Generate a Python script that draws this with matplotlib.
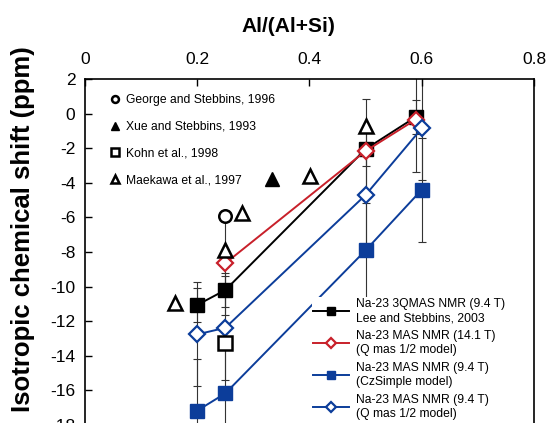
import matplotlib
matplotlib.use("Agg")
import matplotlib.pyplot as plt
from matplotlib.ticker import FuncFormatter

plt.rcParams["font.family"] = ["Liberation Sans", "DejaVu Sans"]
plt.rcParams["axes.unicode_minus"] = False

RED = "#c8202a"
BLUE = "#0c3d9a"

# Na-23 3QMAS NMR (9.4 T), Lee and Stebbins 2003
x_lee = [0.2, 0.25, 0.5, 0.589]
y_lee = [-11.06, -10.2, -2.05, -0.2]
err_lee = 1.0

# Na-23 MAS NMR (14.1 T), Q mas 1/2 model
x_mas14 = [0.25, 0.5, 0.589]
y_mas14 = [-8.65, -2.16, -0.35]

# Na-23 MAS NMR (9.4 T), CzSimple and Q mas 1/2 models
x_mas94 = [0.2, 0.25, 0.5, 0.6]
y_cz = [-17.17, -16.17, -7.9, -4.4]
y_qmas = [-12.76, -12.38, -4.7, -0.85]
err_mas = 3.0

# literature values
x_george = [0.25]
y_george = [-5.9]
x_xue = [0.334]
y_xue = [-3.8]
x_kohn = [0.25]
y_kohn = [-13.28]
x_maekawa = [0.16, 0.25, 0.279, 0.401, 0.5]
y_maekawa = [-10.95, -7.9, -5.73, -3.59, -0.72]

fig = plt.figure(figsize=(5.49, 4.23), dpi=100)
ax = fig.add_axes([0.1548, -0.0866, 0.8179, 0.8998])

# error bars underneath everything
eb = dict(fmt="none", ecolor="0.2", elinewidth=0.8, capsize=3, capthick=0.8, zorder=1)
ax.errorbar(x_lee, y_lee, yerr=err_lee, **eb)
ax.errorbar(x_mas14, y_mas14, yerr=err_mas, **eb)
ax.errorbar(x_mas94, y_cz, yerr=err_mas, **eb)
ax.errorbar(x_mas94, y_qmas, yerr=err_mas, **eb)

lee, = ax.plot(x_lee, y_lee, "-s", color="black", ms=10.5, lw=1.4, zorder=3,
               label="Na-23 3QMAS NMR (9.4 T)\nLee and Stebbins, 2003")
m14, = ax.plot(x_mas14, y_mas14, "-D", color=RED, mfc="white", mec=RED, mew=1.6,
               ms=8.5, lw=1.4, zorder=4,
               label="Na-23 MAS NMR (14.1 T)\n(Q mas 1/2 model)")
cz, = ax.plot(x_mas94, y_cz, "-s", color=BLUE, ms=10, lw=1.4, zorder=3,
              label="Na-23 MAS NMR (9.4 T)\n(CzSimple model)")
qm, = ax.plot(x_mas94, y_qmas, "-D", color=BLUE, mfc="white", mec=BLUE, mew=1.6,
              ms=8.5, lw=1.4, zorder=4,
              label="Na-23 MAS NMR (9.4 T)\n(Q mas 1/2 model)")

lit = dict(ls="none", color="black", zorder=6)
g, = ax.plot(x_george, y_george, "o", mfc="white", mew=1.8, ms=9,
             label="George and Stebbins, 1996", **lit)
xu, = ax.plot(x_xue, y_xue, "^", ms=10.5, label="Xue and Stebbins, 1993", **lit)
k, = ax.plot(x_kohn, y_kohn, "s", mfc="white", mew=1.8, ms=9.5,
             label="Kohn et al., 1998", **lit)
mk, = ax.plot(x_maekawa, y_maekawa, "^", mfc="white", mew=1.8, ms=10.5,
              label="Maekawa et al., 1997", **lit)

ax.set_xlim(0, 0.8)
ax.set_ylim(-20, 2)
ax.set_xticks([0, 0.2, 0.4, 0.6, 0.8])
ax.set_yticks(range(-20, 3, 2))
ax.xaxis.set_major_formatter(FuncFormatter(lambda v, p: f"{v:g}"))
ax.xaxis.tick_top()
ax.tick_params(axis="both", direction="in", length=5, width=1, labelsize=12.5)
ax.tick_params(axis="x", pad=9)
ax.tick_params(axis="y", pad=7)
for s in ax.spines.values():
    s.set_linewidth(1.2)

fig.text(288 / 549, 1 - 26 / 423, "Al/(Al+Si)", fontsize=15, fontweight="bold",
         ha="center", va="center")
fig.text(23 / 549, 1 - 229 / 423, "Isotropic chemical shift (ppm)", fontsize=18.5,
         fontweight="bold", rotation=90, ha="center", va="center")

leg1 = ax.legend(handles=[g, xu, k, mk], loc="upper left",
                 bbox_to_anchor=(109 / 549, 1 - 94 / 423), bbox_transform=fig.transFigure,
                 frameon=False, fontsize=8.7, markerscale=0.55, handlelength=1.0,
                 handletextpad=0.4, labelspacing=1.23, borderpad=0, borderaxespad=0,
                 numpoints=1)
ax.add_artist(leg1)
ax.legend(handles=[lee, m14, cz, qm], loc="upper left",
          bbox_to_anchor=(312 / 549, 1 - 297 / 423), bbox_transform=fig.transFigure,
          frameon=True, facecolor="white", edgecolor="none", framealpha=1, fancybox=False,
          fontsize=8.7, markerscale=0.55, handlelength=3.0, handletextpad=0.58,
          labelspacing=0.5, borderpad=0.1, borderaxespad=0, numpoints=1)

fig.savefig("out.png", dpi=100)
